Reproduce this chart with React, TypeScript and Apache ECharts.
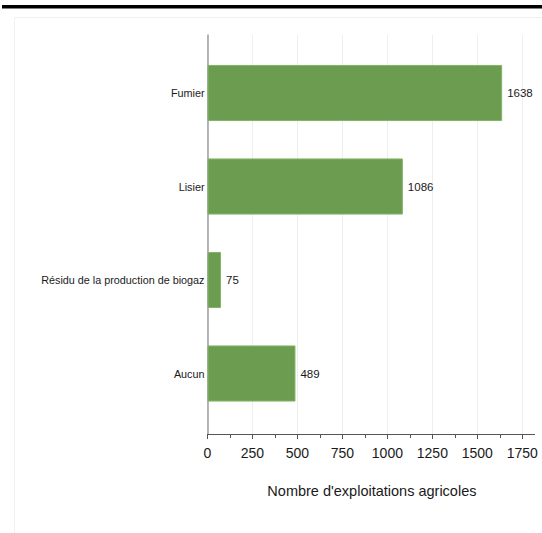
import React, { useEffect, useRef } from "react";
import * as echarts from "echarts";

const categories = ["Fumier", "Lisier", "Résidu de la production de biogaz", "Aucun"];
const counts = [1638, 1086, 75, 489];
const xTicks = [0, 250, 500, 750, 1000, 1250, 1500, 1750];
const axisName = "Nombre d'exploitations agricoles";

const FONT = '"Liberation Sans", Arial, sans-serif';

export default function App() {
  const ref = useRef<HTMLDivElement>(null);
  useEffect(() => {
    if (!ref.current) return;
    const chart = echarts.init(ref.current, null, { renderer: "svg" });
    const H = 533;
    const left = 207.5;
    const right = 19.7;
    const axisTop = 35;
    const axisBottom = 434;
    const barTop = 46.25;
    const barBottom = 420.25;
    const xMax = xTicks[xTicks.length - 1];
    chart.setOption({
      animation: false,
      backgroundColor: "#ffffff",
      textStyle: { fontFamily: FONT },
      grid: [
        { left, right, top: axisTop, bottom: H - axisBottom },
        { left, right, top: barTop, bottom: H - barBottom },
      ],
      xAxis: [
        {
          gridIndex: 0,
          type: "value",
          min: 0,
          max: xMax,
          interval: 250,
          axisLine: { show: true, onZero: false, lineStyle: { color: "#555", width: 1 } },
          axisTick: { show: true, length: 5, lineStyle: { color: "#555" } },
          minorTick: { show: true, splitNumber: 2, length: 4, lineStyle: { color: "#555" } },
          splitLine: { show: true, lineStyle: { color: "#e8f0f0", width: 1 } },
          axisLabel: {
            fontSize: 14,
            color: "#1a1a1a",
            margin: 12,
            fontFamily: FONT,
            formatter: (v: number) => String(v),
          },
          name: axisName,
          nameLocation: "middle",
          nameGap: 49,
          nameTextStyle: {
            fontSize: 14.5,
            color: "#1a1a1a",
            fontFamily: FONT,
            padding: [0, 0, 0, 14],
          },
        },
        {
          gridIndex: 1,
          type: "value",
          min: 0,
          max: xMax,
          interval: 250,
          show: false,
        },
      ],
      yAxis: [
        {
          gridIndex: 0,
          type: "value",
          min: 0,
          max: 1,
          axisLine: { show: true, onZero: false, lineStyle: { color: "#9a9fa3", width: 1.5 } },
          axisTick: { show: false },
          axisLabel: { show: false },
          splitLine: { show: false },
        },
        {
          gridIndex: 1,
          type: "category",
          inverse: true,
          data: categories,
          axisLine: { show: false },
          axisTick: { show: false },
          axisLabel: { fontSize: 10.8, color: "#1a1a1a", margin: 3, fontFamily: FONT },
        },
      ],
      series: [
        {
          type: "bar",
          xAxisIndex: 1,
          yAxisIndex: 1,
          data: counts,
          barCategoryGap: "40%",
          itemStyle: { color: "#6c9c50", borderColor: "#82b366", borderWidth: 1 },
          label: {
            show: true,
            position: "right",
            distance: 5,
            fontSize: 11.5,
            color: "#1a1a1a",
            fontFamily: FONT,
          },
        },
      ],
      graphic: [
        {
          type: "rect",
          silent: true,
          z: -10,
          shape: { x: 14.5, y: 17.5, width: 700, height: 700 },
          style: { fill: "none", stroke: "#eef1f1", lineWidth: 1 },
        },
        {
          type: "rect",
          silent: true,
          shape: { x: 2, y: 5, width: 540, height: 3.5 },
          style: { fill: "#000" },
        },
        {
          type: "line",
          silent: true,
          shape: { x1: 522, y1: axisBottom + 0.5, x2: 535, y2: axisBottom + 0.5 },
          style: { stroke: "#555", lineWidth: 1 },
        },
      ],
    });
    return () => chart.dispose();
  }, []);
  return (
    <div
      ref={ref}
      style={{ position: "fixed", left: 0, top: 0, width: 542, height: 533, background: "#fff" }}
    />
  );
}
